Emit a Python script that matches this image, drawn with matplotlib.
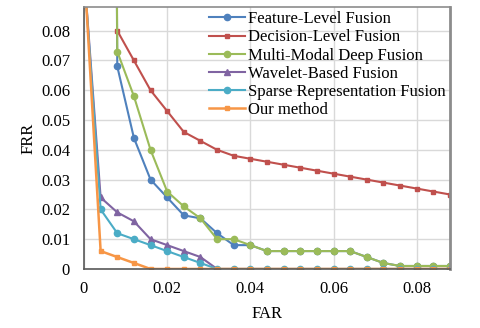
import numpy as np
import matplotlib.pyplot as plt

plt.rcParams['font.family'] = ['Liberation Serif', 'DejaVu Serif']

# FAR sampling points
far = [0.000, 0.004, 0.008, 0.012, 0.016, 0.020, 0.024, 0.028, 0.032, 0.036, 0.040, 0.044,
       0.048, 0.052, 0.056, 0.060, 0.064, 0.068, 0.072, 0.076, 0.080, 0.084, 0.088]

feature_level = [1.0, 1.0, 0.068, 0.044, 0.030, 0.024, 0.018, 0.017, 0.012, 0.008, 0.008, 0.006,
                 0.006, 0.006, 0.006, 0.006, 0.006, 0.004, 0.002, 0.001, 0.001, 0.001, 0.001]
decision_level = [np.nan, np.nan, 0.080, 0.070, 0.060, 0.053, 0.046, 0.043, 0.040, 0.038, 0.037, 0.036,
                  0.035, 0.034, 0.033, 0.032, 0.031, 0.030, 0.029, 0.028, 0.027, 0.026, 0.025]
multi_modal = [1.0, 1.0, 0.073, 0.058, 0.040, 0.026, 0.021, 0.017, 0.010, 0.010, 0.008, 0.006,
               0.006, 0.006, 0.006, 0.006, 0.006, 0.004, 0.002, 0.001, 0.001, 0.001, 0.001]
wavelet = [0.100, 0.024, 0.019, 0.016, 0.010, 0.008, 0.006, 0.004, 0.000, 0.000, 0.000, 0.000,
           0.000, 0.000, 0.000, 0.000, 0.000, 0.000, 0.000, 0.000, 0.000, 0.000, 0.000]
sparse = [0.100, 0.020, 0.012, 0.010, 0.008, 0.006, 0.004, 0.002, 0.000, 0.000, 0.000, 0.000,
          0.000, 0.000, 0.000, 0.000, 0.000, 0.000, 0.000, 0.000, 0.000, 0.000, 0.000]
ours = [0.102, 0.006, 0.004, 0.002, 0.000, 0.000, 0.000, 0.000, 0.000, 0.000, 0.000, 0.000,
        0.000, 0.000, 0.000, 0.000, 0.000, 0.000, 0.000, 0.000, 0.000, 0.000, 0.000]

fig = plt.figure(figsize=(4.8, 3.28), dpi=100)
ax = fig.add_axes([0.175, 0.18, 0.7625, 0.799])

ax.plot(far, feature_level, color='#4F81BD', marker='o', ms=4.5, lw=1.5, label='Feature-Level Fusion')
ax.plot(far, decision_level, color='#C0504D', marker='s', ms=3.5, lw=1.5, label='Decision-Level Fusion')
ax.plot(far, multi_modal, color='#9BBB59', marker='o', ms=4.5, lw=1.5, label='Multi-Modal Deep Fusion')
ax.plot(far, wavelet, color='#8064A2', marker='^', ms=4.5, lw=1.5, label='Wavelet-Based Fusion')
ax.plot(far, sparse, color='#4BACC6', marker='o', ms=4.5, lw=1.5, label='Sparse Representation Fusion')
ax.plot(far, ours, color='#F79646', marker='s', ms=3.5, lw=1.8, label='Our method')

ax.set_xlim(0, 0.088)
ax.set_ylim(0, 0.088)
ax.set_xticks([0, 0.02, 0.04, 0.06, 0.08])
ax.set_xticklabels(['0', '0.02', '0.04', '0.06', '0.08'])
ax.set_yticks([0, 0.01, 0.02, 0.03, 0.04, 0.05, 0.06, 0.07, 0.08])
ax.set_yticklabels(['0', '0.01', '0.02', '0.03', '0.04', '0.05', '0.06', '0.07', '0.08'])
ax.tick_params(labelsize=12, length=0)
ax.tick_params(axis='y', pad=10)
ax.tick_params(axis='x', pad=9)
ax.grid(True, color='#D9D9D9', lw=1)
ax.set_axisbelow(True)

for s in ['left', 'bottom']:
    ax.spines[s].set_color('#595959')
    ax.spines[s].set_linewidth(1.2)
ax.spines['top'].set_color('#8C8C8C')
ax.spines['top'].set_linewidth(1.2)
ax.spines['right'].set_color('#8C8C8C')
ax.spines['right'].set_linewidth(2)

ax.set_xlabel('FAR', fontsize=12, labelpad=6)
ax.set_ylabel('FRR', fontsize=12, labelpad=3)

ax.legend(loc='upper right', bbox_to_anchor=(1.01, 1.015), frameon=False, fontsize=12,
          labelspacing=0.13, handlelength=2.2, handletextpad=0.15, borderaxespad=0.1)

plt.savefig('out.png', dpi=100)
plt.close()
